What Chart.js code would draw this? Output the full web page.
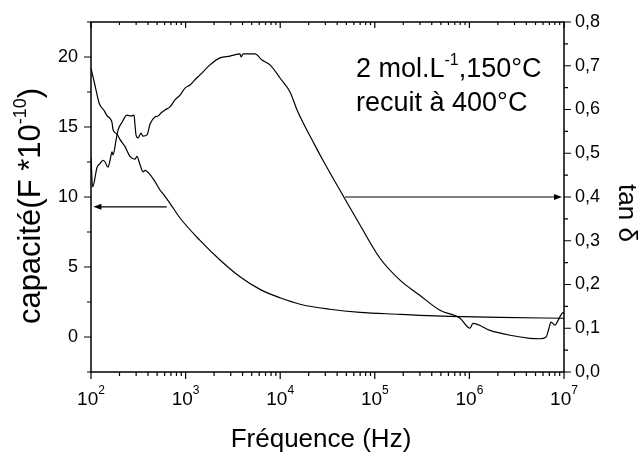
<!DOCTYPE html>
<html>
<head>
<meta charset="utf-8">
<script src="https://cdn.jsdelivr.net/npm/chart.js@4.4.0/dist/chart.umd.min.js"></script>
<style>
  body { margin: 0; background: #fff; }
  canvas { display: block; }
</style>
</head>
<body>
<canvas id="myChart" width="640" height="452"></canvas>
<script>
  /////////////////////////////////////
 /*             DATA                */
/////////////////////////////////////

// capacité (F *10^-10), left axis
var capFreq = [100, 110, 122, 137, 148, 159, 167, 171, 188, 203, 229, 258, 292, 306, 330, 355, 372, 421, 475, 536,
  606, 684, 873, 1420, 2311, 3758, 6110, 9954, 16200, 33600, 69800, 184600, 300500, 623000, 2100000, 10000000];
var capValues = [19.2, 18.0, 16.7, 16.2, 15.8, 15.6, 15.3, 14.8, 14.5, 14.1, 13.6, 12.9, 12.7, 12.9, 12.3, 11.8, 11.9, 11.6, 11.1, 10.5,
  10.05, 9.55, 8.5, 6.9, 5.5, 4.3, 3.4, 2.8, 2.34, 1.98, 1.76, 1.62, 1.55, 1.48, 1.40, 1.34];

// tan delta, right axis
var tanFreq = [100, 104, 116, 125, 134, 141, 151, 159, 167, 171, 184, 193, 213, 240, 265, 285, 292, 299, 314, 338,
  355, 391, 421, 475, 511, 549, 606, 684, 772, 873, 986, 1114, 1257, 1420, 1811, 2311, 2946, 3758, 3853, 4045,
  5415, 6426, 7805, 9954, 12700, 15070, 23300, 28300, 48500, 69800, 113500, 184600, 300500, 488500, 795000,
  1014000, 1091000, 1651000, 2686000, 4372000, 5575000, 6454000, 6940000, 7290000, 8040000, 8650000, 9530000, 10000000];
var tanValues = [0.49, 0.423, 0.468, 0.477, 0.484, 0.480, 0.468, 0.484, 0.503, 0.496, 0.530, 0.553, 0.571, 0.587, 0.585, 0.587, 0.564, 0.542, 0.535, 0.546,
  0.539, 0.542, 0.567, 0.583, 0.585, 0.592, 0.599, 0.606, 0.622, 0.633, 0.649, 0.656, 0.668, 0.679, 0.702, 0.718, 0.722, 0.727, 0.720, 0.727,
  0.727, 0.713, 0.702, 0.672, 0.640, 0.599, 0.518, 0.484, 0.395, 0.336, 0.260, 0.210, 0.175, 0.141, 0.123,
  0.100, 0.111, 0.095, 0.084, 0.077, 0.076, 0.080, 0.100, 0.114, 0.107, 0.118, 0.134, 0.136];

// tick labels
var leftTicks = [0, 5, 10, 15, 20];
var leftLabels = ["0", "5", "10", "15", "20"];
var rightTicks = [0, 0.1, 0.2, 0.3, 0.4, 0.5, 0.6, 0.7, 0.8];
var rightLabels = ["0,0", "0,1", "0,2", "0,3", "0,4", "0,5", "0,6", "0,7", "0,8"];
var decades = [1e2, 1e3, 1e4, 1e5, 1e6, 1e7];
var decadeExp = ["2", "3", "4", "5", "6", "7"];

// arrows: [from freq, to freq, value]
var arrowCap = [631, 106, 9.3];
var arrowTan = [48500, 9530000, 0.4];

var FONT = "'Liberation Sans', Arial, sans-serif";

function toPoints(xs, ys) {
  var pts = [];
  for (var i = 0; i < xs.length; i++) pts.push({x: xs[i], y: ys[i]});
  return pts;
}

// draw text pieces with superscripts: parts = [[text, size, rise], ...]
function drawRich(ctx, parts, x, y, align) {
  var w = 0, i;
  for (i = 0; i < parts.length; i++) {
    ctx.font = parts[i][1] + "px " + FONT;
    w += ctx.measureText(parts[i][0]).width;
  }
  var cx = x;
  if (align == "center") cx = x - w / 2;
  if (align == "right") cx = x - w;
  ctx.textAlign = "left";
  ctx.textBaseline = "alphabetic";
  for (i = 0; i < parts.length; i++) {
    ctx.font = parts[i][1] + "px " + FONT;
    ctx.fillText(parts[i][0], cx, y + parts[i][2]);
    cx += ctx.measureText(parts[i][0]).width;
  }
}

function arrow(ctx, x1, x2, y) {
  var dir = x2 > x1 ? 1 : -1;
  ctx.beginPath();
  ctx.moveTo(x1, y);
  ctx.lineTo(x2 - dir * 6, y);
  ctx.stroke();
  ctx.beginPath();
  ctx.moveTo(x2, y);
  ctx.lineTo(x2 - dir * 8, y - 3);
  ctx.lineTo(x2 - dir * 8, y + 3);
  ctx.closePath();
  ctx.fill();
}

  /////////////////////////////////////
 /*     AXES, LABELS AND ARROWS     */
/////////////////////////////////////

var axesPlugin = {
  id: 'axesPlugin',
  afterDraw: function(chart) {
    var ctx = chart.ctx;
    var a = chart.chartArea;
    var xs = chart.scales.x, yl = chart.scales.y, yr = chart.scales.y2;
    var i, k, p;
    ctx.save();
    ctx.strokeStyle = "#000";
    ctx.fillStyle = "#000";
    ctx.lineWidth = 1.5;
    ctx.strokeRect(a.left, a.top, a.right - a.left, a.bottom - a.top);

    ctx.lineWidth = 1.2;
    ctx.beginPath();
    // x ticks (bottom out, top in)
    for (i = 0; i < decades.length; i++) {
      p = xs.getPixelForValue(decades[i]);
      ctx.moveTo(p, a.bottom); ctx.lineTo(p, a.bottom + 7);
      ctx.moveTo(p, a.top); ctx.lineTo(p, a.top + 6);
      if (i == decades.length - 1) break;
      for (k = 2; k < 10; k++) {
        p = xs.getPixelForValue(decades[i] * k);
        ctx.moveTo(p, a.bottom); ctx.lineTo(p, a.bottom + 4);
        ctx.moveTo(p, a.top); ctx.lineTo(p, a.top + 3);
      }
    }
    // left ticks
    for (i = -2.5; i <= 22.5; i += 2.5) {
      p = yl.getPixelForValue(i);
      var len = (i % 5 == 0) ? 7 : 4;
      ctx.moveTo(a.left, p); ctx.lineTo(a.left - len, p);
    }
    // right ticks
    for (i = 0; i <= 16; i++) {
      p = yr.getPixelForValue(i * 0.05);
      ctx.moveTo(a.right, p); ctx.lineTo(a.right + (i % 2 == 0 ? 7 : 4), p);
    }
    ctx.stroke();

    // tick labels
    ctx.font = "18px " + FONT;
    ctx.textBaseline = "middle";
    ctx.textAlign = "right";
    for (i = 0; i < leftTicks.length; i++) {
      ctx.fillText(leftLabels[i], a.left - 13, yl.getPixelForValue(leftTicks[i]));
    }
    ctx.textAlign = "left";
    for (i = 0; i < rightTicks.length; i++) {
      ctx.fillText(rightLabels[i], a.right + 11, yr.getPixelForValue(rightTicks[i]));
    }
    for (i = 0; i < decades.length; i++) {
      drawRich(ctx, [["10", 19, 0], [decadeExp[i], 12, -11]], xs.getPixelForValue(decades[i]), a.bottom + 33, "center");
    }

    // axis titles
    drawRich(ctx, [["Fréquence (Hz)", 26, 0]], 321, 447, "center");
    ctx.save();
    ctx.translate(40, 206);
    ctx.rotate(-Math.PI / 2);
    drawRich(ctx, [["capacité(F *10", 31, 0], ["-10", 18, -14], [")", 31, 0]], 0, 0, "center");
    ctx.restore();
    ctx.save();
    ctx.translate(619, 213);
    ctx.rotate(Math.PI / 2);
    drawRich(ctx, [["tan δ", 26, 0]], 0, 0, "center");
    ctx.restore();

    // annotation
    drawRich(ctx, [["2 mol.L", 27, 0], ["-1", 16, -12], [",150°C", 27, 0]], 356, 77, "left");
    drawRich(ctx, [["recuit à 400°C", 27, 0]], 356, 111, "left");

    // arrows
    ctx.lineWidth = 1.2;
    arrow(ctx, xs.getPixelForValue(arrowCap[0]), xs.getPixelForValue(arrowCap[1]), yl.getPixelForValue(arrowCap[2]));
    arrow(ctx, xs.getPixelForValue(arrowTan[0]), xs.getPixelForValue(arrowTan[1]), yr.getPixelForValue(arrowTan[2]));
    ctx.restore();
  }
};

  /////////////////////////////////////
 /*             CHART               */
/////////////////////////////////////

var ctx = document.getElementById('myChart').getContext('2d');
var chart = new Chart(ctx, {
  type: 'scatter',
  data: {
    datasets: [{
      label: "capacité",
      data: toPoints(capFreq, capValues),
      yAxisID: 'y',
      showLine: true,
      cubicInterpolationMode: 'monotone',
      borderColor: '#000',
      borderWidth: 1.2,
      pointRadius: 0
    }, {
      label: "tan δ",
      data: toPoints(tanFreq, tanValues),
      yAxisID: 'y2',
      showLine: true,
      cubicInterpolationMode: 'monotone',
      borderColor: '#000',
      borderWidth: 1.2,
      pointRadius: 0
    }]
  },
  options: {
    responsive: false,
    animation: false,
    devicePixelRatio: 1,
    layout: { padding: { left: 91, right: 76, top: 22, bottom: 80 } },
    plugins: { legend: { display: false }, tooltip: { enabled: false } },
    scales: {
      x: { type: 'logarithmic', min: 100, max: 1e7, display: false },
      y: { type: 'linear', min: -2.5, max: 22.5, display: false },
      y2: { type: 'linear', min: 0, max: 0.8, display: false }
    }
  },
  plugins: [axesPlugin]
});
</script>
</body>
</html>
